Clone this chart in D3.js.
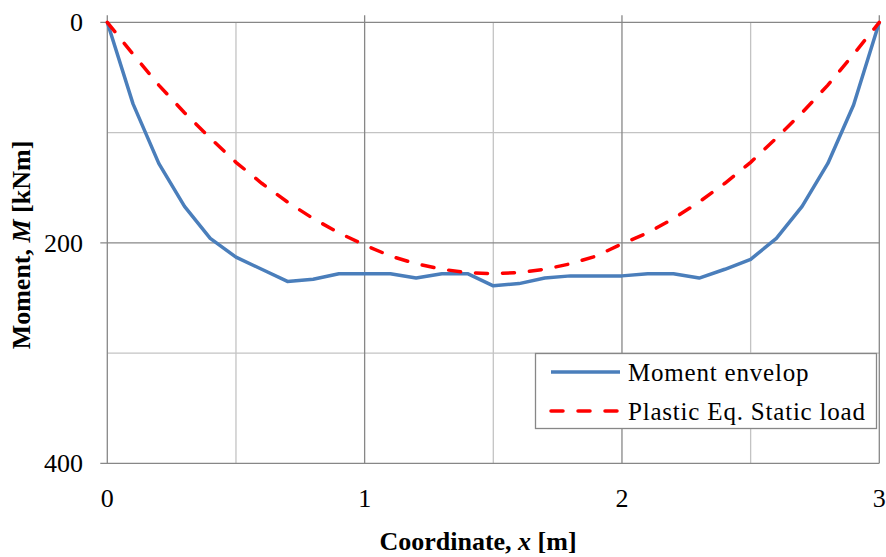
<!DOCTYPE html>
<html><head><meta charset="utf-8">
<script src="https://cdn.jsdelivr.net/npm/d3@7"></script>
<style>body{margin:0;background:#fff}svg{display:block}</style>
</head><body><svg id="c" width="886" height="557"></svg>
<script>
const xValues = [0,0.1,0.2,0.3,0.4,0.5,0.6,0.7,0.8,0.9,1.0,1.1,1.2,1.3,1.4,1.5,1.6,1.7,1.8,1.9,2.0,2.1,2.2,2.3,2.4,2.5,2.6,2.7,2.8,2.9,3.0];
const momentEnvelop = [0,74,128,167,196,213,224,235,233,228,228,228,232,228,228,239,237,232,230,230,230,228,228,232,224,215,196,167,128,75,0];
const plasticEqStatic = [0,29,57,82,105,127,146,163,178,191,202,212,219,224,227,228,227,224,219,212,201,191,178,163,146,127,105,82,57,29,0];
const seriesNames = ["Moment envelop","Plastic Eq. Static load"];
const xTicks = [0,1,2,3];
const xMinorTicks = [0.5,1.5,2.5];
const yTicks = [0,200,400];
const yMinorTicks = [100,300];

const svg = d3.select("#c");
const L=107.3, R=879.3, T=22.3, B=463.3;
const x = d3.scaleLinear().domain([0,3]).range([L,R]);
const y = d3.scaleLinear().domain([0,400]).range([T,B]);
const major="#878787", minor="#c3c3c3";
const font="'Liberation Serif','Times New Roman',serif";

// minor gridlines
svg.append("g").selectAll("line").data(xMinorTicks).join("line")
  .attr("x1",d=>x(d)).attr("x2",d=>x(d)).attr("y1",T).attr("y2",B)
  .attr("stroke",minor).attr("stroke-width",1.3);
svg.append("g").selectAll("line").data(yMinorTicks).join("line")
  .attr("x1",L).attr("x2",R).attr("y1",d=>y(d)).attr("y2",d=>y(d))
  .attr("stroke",minor).attr("stroke-width",1.3);
// major gridlines
svg.append("g").selectAll("line").data(xTicks).join("line")
  .attr("x1",d=>x(d)).attr("x2",d=>x(d)).attr("y1",T-7).attr("y2",B)
  .attr("stroke",major).attr("stroke-width",1.3);
svg.append("g").selectAll("line").data(yTicks).join("line")
  .attr("x1",L-7).attr("x2",R).attr("y1",d=>y(d)).attr("y2",d=>y(d))
  .attr("stroke",major).attr("stroke-width",1.3);

// tick labels
svg.append("g").selectAll("text").data(yTicks).join("text")
  .attr("x",83).attr("y",d=>y(d)+9).attr("text-anchor","end")
  .attr("font-family",font).attr("font-size",26).attr("fill","#000").text(d=>d);
svg.append("g").selectAll("text").data(xTicks).join("text")
  .attr("x",d=>x(d)).attr("y",507).attr("text-anchor","middle")
  .attr("font-family",font).attr("font-size",26).attr("fill","#000").text(d=>d);

// lines
const pts = a => a.map((v,i)=>[xValues[i],v]);
const line = d3.line().x(d=>x(d[0])).y(d=>y(d[1]));
svg.append("path").datum(pts(momentEnvelop)).attr("d",line)
  .attr("fill","none").attr("stroke","#4a7ebb").attr("stroke-width",3.5).attr("stroke-linejoin","round");
svg.append("path").datum(pts(plasticEqStatic)).attr("d",line)
  .attr("fill","none").attr("stroke","#ff0000").attr("stroke-width",3.5)
  .attr("stroke-dasharray","12,15").attr("stroke-linecap","round");

// axis titles
const xt = svg.append("text").attr("x",478).attr("y",550).attr("text-anchor","middle")
  .attr("font-family",font).attr("font-size",26).attr("font-weight","bold");
xt.append("tspan").text("Coordinate, ");
xt.append("tspan").attr("font-style","italic").text("x");
xt.append("tspan").text(" [m]");
const yt = svg.append("text").attr("transform","translate(30,245) rotate(-90)").attr("text-anchor","middle")
  .attr("font-family",font).attr("font-size",26).attr("font-weight","bold");
yt.append("tspan").text("Moment, ");
yt.append("tspan").attr("font-style","italic").text("M");
yt.append("tspan").text(" [kNm]");

// legend
const lg = svg.append("g");
lg.append("rect").attr("x",535.5).attr("y",353.5).attr("width",341).attr("height",75)
  .attr("fill","#fff").attr("stroke",major).attr("stroke-width",1.3);
const colors=["#4a7ebb","#ff0000"], dashes=[null,"12,15"], ly=[372,411];
seriesNames.forEach((n,i)=>{
  lg.append("line").attr("x1",551).attr("x2",620).attr("y1",ly[i]).attr("y2",ly[i])
    .attr("stroke",colors[i]).attr("stroke-width",3.5)
    .attr("stroke-dasharray",dashes[i]).attr("stroke-linecap",i?"round":"butt");
  lg.append("text").attr("x",628).attr("y",ly[i]+9).attr("font-family",font)
    .attr("font-size",25).attr("letter-spacing",0.8).text(n);
});
</script></body></html>
